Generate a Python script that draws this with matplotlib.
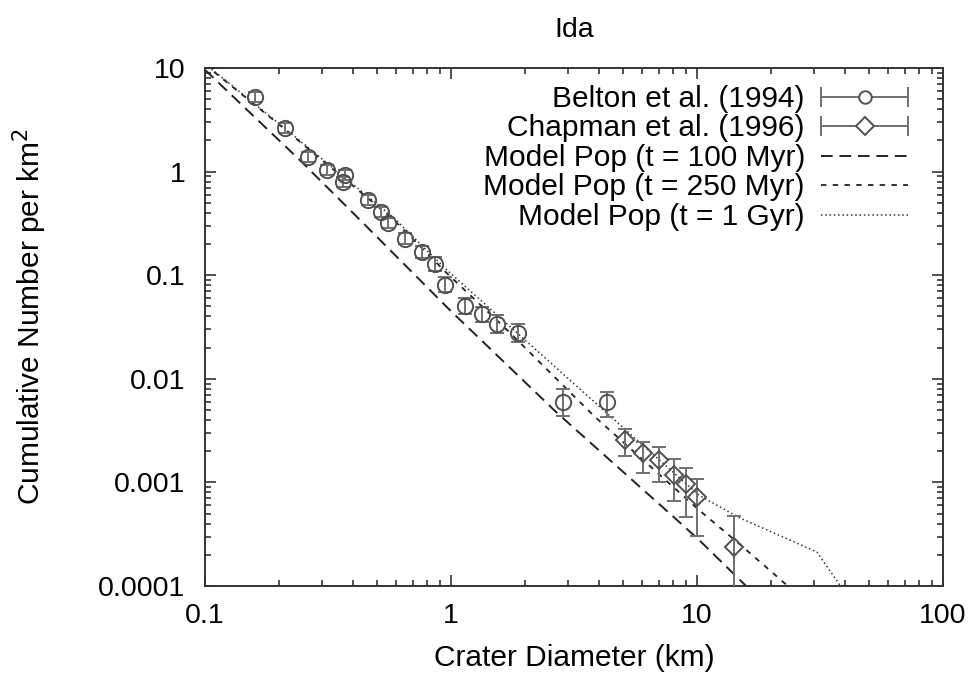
import matplotlib
matplotlib.use("Agg")
import matplotlib.pyplot as plt
from matplotlib.lines import Line2D
from matplotlib.legend_handler import HandlerLine2D, HandlerTuple
from matplotlib.ticker import LogLocator, FixedLocator, FixedFormatter, NullFormatter

# ---------------- data ----------------
belton_d = [0.160, 0.211, 0.262, 0.312, 0.370, 0.365, 0.461, 0.521, 0.557, 0.650,
            0.760, 0.860, 0.945, 1.14, 1.34, 1.54, 1.87, 2.85, 4.31]
belton_n = [5.28, 2.62, 1.39, 1.04, 0.93, 0.80, 0.533, 0.41, 0.316, 0.226,
            0.168, 0.128, 0.081, 0.050, 0.042, 0.034, 0.0277, 0.0060, 0.0060]
belton_lo = [4.72, 2.34, 1.24, 0.93, 0.83, 0.716, 0.477, 0.367, 0.283, 0.198,
             0.147, 0.110, 0.0686, 0.0418, 0.0356, 0.0278, 0.0229, 0.0044, 0.0043]
belton_hi = [5.90, 2.93, 1.55, 1.16, 1.04, 0.894, 0.596, 0.458, 0.353, 0.258,
             0.192, 0.149, 0.0956, 0.0598, 0.0496, 0.0415, 0.0335, 0.0080, 0.0075]

chap_d = [5.10, 6.03, 7.01, 8.07, 9.02, 10.0, 14.1]
chap_n = [0.00257, 0.00192, 0.00164, 0.00118, 0.00096, 0.00073, 0.000238]
chap_lo = [0.00180, 0.00123, 0.00101, 0.00066, 0.000464, 0.000304, 0.00005]
chap_hi = [0.00327, 0.00245, 0.00221, 0.00168, 0.00138, 0.00108, 0.000474]

m100_d = [0.1, 0.243, 0.415, 0.99, 2.7, 8.3, 10.2, 15.7, 17.0]
m100_n = [9.6, 1.29, 0.365, 0.046, 0.00468, 0.000433, 0.000278, 0.000102, 0.000085]

m250_d = [0.1, 0.2, 0.58, 0.96, 1.69, 3.85, 10.2, 15.0, 23.4, 25.0]
m250_n = [10.8, 2.85, 0.35, 0.105, 0.0296, 0.00428, 0.00054, 0.00025, 0.0001, 0.000088]

m1g_d = [0.1, 0.2, 0.58, 0.963, 4.03, 10.2, 14.96, 30.7, 38.1, 40.0]
m1g_n = [11.0, 2.9, 0.365, 0.112, 0.00535, 0.00075, 0.000453, 0.000213, 0.000102, 0.00008]

labels = ["Belton et al. (1994)", "Chapman et al. (1996)",
          "Model Pop (t = 100 Myr)", "Model Pop (t = 250 Myr)", "Model Pop (t = 1 Gyr)"]
xticks = [0.1, 1, 10, 100]
xticklabels = ["0.1", "1", "10", "100"]
yticks = [0.0001, 0.001, 0.01, 0.1, 1, 10]
yticklabels = ["0.0001", "0.001", "0.01", "0.1", "1", "10"]

# ---------------- style ----------------
plt.rcParams['font.family'] = ['Liberation Sans', 'DejaVu Sans']
FS = 20.5
LFS = 21.5
PT = '#505050'
EB = '#707070'

fig = plt.figure(figsize=(9.78, 6.77), dpi=100)
ax = fig.add_axes([205/978, 1-586/677, (943-205)/978, (586-68)/677])
ax.set_xscale('log')
ax.set_yscale('log')
ax.set_xlim(0.1, 100)
ax.set_ylim(0.0001, 10)

# model lines
ax.plot(m100_d, m100_n, color='#222222', lw=1.4, dashes=(6, 3.5))
ax.plot(m250_d, m250_n, color='#222222', lw=1.3, dashes=(3, 3.5))
ax.plot(m1g_d, m1g_n, color='#333333', lw=1.1, dashes=(1, 1.8))

# data
b_err = [[n - l for n, l in zip(belton_n, belton_lo)], [h - n for n, h in zip(belton_n, belton_hi)]]
c_err = [[n - l for n, l in zip(chap_n, chap_lo)], [h - n for n, h in zip(chap_n, chap_hi)]]
ax.errorbar(belton_d, belton_n, yerr=b_err, fmt='o', ms=11, mfc='none', mec=PT, mew=1.4,
            ecolor=EB, elinewidth=1.4, capsize=5, capthick=1.4, zorder=3)
ax.errorbar(chap_d, chap_n, yerr=c_err, fmt='D', ms=9.5, mfc='none', mec=PT, mew=1.4,
            ecolor=EB, elinewidth=1.4, capsize=5, capthick=1.4, zorder=3)

# ticks
ax.xaxis.set_major_locator(FixedLocator(xticks))
ax.xaxis.set_major_formatter(FixedFormatter(xticklabels))
ax.yaxis.set_major_locator(FixedLocator(yticks))
ax.yaxis.set_major_formatter(FixedFormatter(yticklabels))
ax.xaxis.set_minor_locator(LogLocator(base=10, subs=range(2, 10), numticks=20))
ax.yaxis.set_minor_locator(LogLocator(base=10, subs=range(2, 10), numticks=20))
ax.xaxis.set_minor_formatter(NullFormatter())
ax.yaxis.set_minor_formatter(NullFormatter())
ax.tick_params(which='both', direction='in', top=True, right=True, color='#333333', width=1.2)
ax.tick_params(which='major', length=8, labelsize=FS)
ax.tick_params(which='minor', length=4.5)
ax.tick_params(axis='x', which='major', pad=12)
ax.tick_params(axis='y', which='major', pad=14)
for s in ax.spines.values():
    s.set_color('#333333')
    s.set_linewidth(1.4)

ax.set_title("Ida", fontsize=FS, pad=22)
ax.set_xlabel("Crater Diameter (km)", fontsize=LFS, labelpad=11)
ax.set_ylabel("Cumulative Number per km$^2$", fontsize=LFS)
ax.yaxis.set_label_coords(-0.212, 0.52)

# legend (gnuplot style: text right, sample on the right)
bar_proxy = Line2D([], [], color=EB, lw=1.4, marker='|', ms=14, mew=1.4)
circ_proxy = Line2D([], [], ls='none', marker='o', ms=9, mfc='white', mec=PT, mew=1.4)
diam_proxy = Line2D([], [], ls='none', marker='D', ms=9, mfc='white', mec=PT, mew=1.4)
bar_proxy2 = Line2D([], [], color=EB, lw=1.4, marker='|', ms=14, mew=1.4)
l100 = Line2D([], [], color='#222222', lw=1.4, dashes=(6, 3.5))
l250 = Line2D([], [], color='#222222', lw=1.3, dashes=(3, 3.5))
l1g = Line2D([], [], color='#333333', lw=1.1, dashes=(1, 1.8))
hmap = {bar_proxy: HandlerLine2D(numpoints=2, marker_pad=0),
        bar_proxy2: HandlerLine2D(numpoints=2, marker_pad=0),
        tuple: HandlerTuple(ndivide=1, pad=0)}
leg = ax.legend([(bar_proxy, circ_proxy), (bar_proxy2, diam_proxy), l100, l250, l1g], labels,
                loc='upper right', bbox_to_anchor=((908-205)/738, (586-85)/518), markerfirst=False,
                frameon=False, fontsize=LFS, handlelength=2.9, handletextpad=0.55,
                labelspacing=0.05, borderaxespad=0, borderpad=0, handler_map=hmap, numpoints=1)

fig.savefig("out.png", dpi=100)
